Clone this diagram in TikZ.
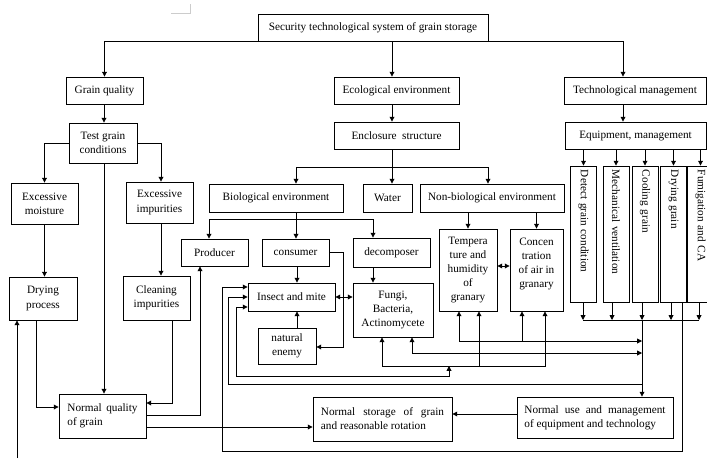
\documentclass[tikz,border=0pt]{standalone}
\usepackage{fontspec}
\setmainfont{Liberation Serif}
\usetikzlibrary{arrows.meta,positioning,calc}

\begin{document}
\begin{tikzpicture}[
  x=0.025cm, y=-0.025cm,
  font=\fontsize{8}{10}\selectfont,
  box/.style={draw, line width=0.6pt, inner sep=1pt, align=center,
    minimum height=0.675cm},
  vbox/.style={box, rotate=-90, minimum height=0.65cm, text width=3.2cm,
    inner xsep=0.1cm, align=left},
  ln/.style={line width=0.6pt},
  arr/.style={ln, -{Triangle[length=3.4pt,width=3.4pt]}},
  barr/.style={ln, {Triangle[length=3.4pt,width=3.4pt]}-{Triangle[length=3.4pt,width=3.4pt]}},
]
  \useasboundingbox (0,0) rectangle (707,459);
  \draw[gray!40, thin] (171,13) -- (190,13) -- (190,4);

  \node[box, minimum width=5.75cm] (sys) at (373,27.5) {Security technological system of grain storage};
  \node[box, minimum width=1.925cm] (gq) at (104.5,90.5) {Grain quality};
  \node[box, minimum width=3.125cm] (eco) at (396.5,90.5) {Ecological environment};
  \node[box, minimum width=3.55cm] (tm) at (635,90.5) {Technological management};

  \node[box, minimum width=1.7cm, minimum height=1cm] (test) at (103,143) {Test grain\\conditions};
  \node[box, minimum width=3.125cm] (encl) at (396.5,135.5) {Enclosure\ \ structure};
  \node[box, minimum width=3.525cm] (equip) at (635.5,135.5) {Equipment, management};

  \node[box, minimum width=1.675cm, minimum height=1.025cm] (exm) at (44.5,203.5) {Excessive\\moisture};
  \node[box, minimum width=1.675cm, minimum height=1.025cm] (exi) at (159.5,202.5) {Excessive\\impurities};
  \node[box, minimum width=1.7cm, minimum height=1.075cm] (drying) at (43,298.5) {Drying\\process};
  \node[box, minimum width=1.675cm, minimum height=1.1cm] (clean) at (156.5,298) {Cleaning\\impurities};

  \node[box, minimum width=3.35cm, minimum height=0.7cm] (bio) at (276,198) {Biological environment};
  \node[box, minimum width=1.225cm, minimum height=0.7cm] (water) at (387.5,198) {Water};
  \node[box, minimum width=3.6cm, minimum height=0.7cm] (nonbio) at (492,198) {Non-biological environment};

  \node[box, minimum width=1.675cm] (prod) at (214.5,252.5) {Producer};
  \node[box, minimum width=1.675cm] (cons) at (295.5,252.5) {consumer};
  \node[box, minimum width=1.925cm, minimum height=0.725cm] (decomp) at (391.5,252.5) {decomposer};
  \node[box, minimum width=2.175cm, minimum height=0.7cm] (insect) at (291.5,297) {Insect and mite};
  \node[box, minimum width=2cm, minimum height=1.35cm] (fungi) at (393,310) {Fungi,\\Bacteria,\\Actinomycete};
  \node[box, minimum width=1.45cm, minimum height=0.9cm] (enemy) at (287,346) {natural\\enemy};
  \node[box, minimum width=1.45cm, minimum height=2.05cm] (temp) at (468,270) {Tempera\\ture and\\humidity\\of\\granary};
  \node[box, minimum width=1.325cm, minimum height=2.05cm] (conc) at (536.5,270) {Concen\\tration\\of air in\\granary\\\mbox{}};

  \node[vbox] (det) at (583.5,234) {Detect grain condition};
  \node[vbox] (mech) at (616,234) {Mechanical ventilation};
  \node[vbox] (cool) at (645,234) {Cooling grain};
  \node[vbox] (dry) at (673.5,234) {Drying grain};
  \node[vbox] (fum) at (700.5,234) {Fumigation and CA};

  \node[box, minimum width=2.175cm, minimum height=1.1cm, align=left] (nq) at (102.5,416)
    {\makebox[1.75cm][s]{Normal quality}\\of grain};
  \node[box, minimum width=3.475cm, minimum height=1.1cm, align=left] (nstore) at (382.5,419)
    {\makebox[3.075cm][s]{Normal storage of grain}\\and reasonable rotation};
  \node[box, minimum width=3.9cm, minimum height=1.025cm, align=left] (nuse) at (595,417.5)
    {\makebox[3.525cm][s]{Normal use and management}\\of equipment and technology};

  % top level
  \draw[arr] (sys.south west) -| (gq.north);
  \draw[arr] (sys.south -| 392,0) -- (eco.north -| 392,0);
  \draw[arr] (sys.south east) -| (tm.north -| 623,0);
  \draw[arr] (gq.south -| 104,0) -- (test.north -| 104,0);
  \draw[arr] (eco.south -| 392,0) -- (encl.north -| 392,0);
  \draw[arr] (tm.south -| 623,0) -- (equip.north -| 623,0);

  % grain quality
  \draw[arr] (test.west) -| (exm.north);
  \draw[arr] (test.east) -| (exi.north -| 161,0);
  \draw[arr] (exm.south) -- (exm.south |- drying.north);
  \draw[arr] (exi.south -| 161,0) -- (clean.north -| 161,0);
  \draw[arr] (test.south -| 104,0) -- (nq.north -| 104,0);
  \draw[arr] (drying.south -| 36,0) |- (nq.west |- 0,407);
  \draw[arr] (clean.south -| 172,0) |- (nq.east |- 0,403);
  \draw[arr] (nq.east |- 0,415) -| (prod.south -| 200,0);
  \draw[arr] (nq.east |- 0,427) -- (nstore.west |- 0,427);
  \coordinate (fb) at (17,458);
  \draw[arr] (fb) -- (fb |- drying.south);

  % ecological environment
  \draw[ln] (encl.south -| 392,0) -- (392,167) coordinate (ej);
  \draw[arr] (ej) -| (bio.north -| 296,0);
  \draw[arr] (ej) -- (ej |- water.north);
  \draw[arr] (ej) -| (nonbio.north -| 488,0);
  \draw[ln] (bio.south -| 296,0) -- (296,219) coordinate (bj);
  \draw[arr] (bj) -| (prod.north -| 209,0);
  \draw[arr] (bj) -- (bj |- cons.north);
  \draw[arr] (bj) -| (decomp.north -| 373,0);
  \draw[arr] (nonbio.south -| temp.north) -- (temp.north);
  \draw[arr] (nonbio.south -| conc.north) -- (conc.north);
  \draw[arr] (cons.south -| 297,0) -- (insect.north -| 297,0);
  \draw[arr] (decomp.south -| 373,0) -- (fungi.north -| 373,0);
  \draw[barr] (insect.east) -- (insect.east -| fungi.west);
  \draw[arr] (enemy.north -| 297,0) -- (insect.south -| 297,0);
  \draw[arr] (cons.east) -| (343,347) -- (enemy.east |- 0,347);
  \draw[barr] (temp.east |- 0,266) -- (conc.west |- 0,266);

  % equipment
  \foreach \b in {det,mech,cool,dry,fum}
    \draw[arr] (equip.south -| \b.west) -- (\b.west);
  \foreach \b/\x in {det/583,mech/612,cool/642,dry/671,fum/699}
    \draw[arr] (\b.east -| \x,0) -- (\x,320);
  \draw[ln] (583,320) -- (699,320);
  \draw[arr] (642,320) -- (nuse.north -| 642,0);
  \draw[arr] (nuse.west |- 0,414) -- (nstore.east |- 0,414);

  % feedback
  \draw[arr] (dry.east -| 682,0) |- (222,451) |- (insect.west |- 0,287);
  \draw[arr] (642,384) -| (228,297) -- (insect.west);
  \draw[barr] (insect.west |- 0,307) -| (236,376) -| (449,366);
  \draw[barr] (fungi.south -| 382,0) |- (545,366) -- (conc.south -| 545,0);
  \draw[arr] (479,366) -- (temp.south -| 479,0);
  \draw[barr] (fungi.south -| 412,0) |- (642,353);
  \draw[barr] (temp.south -| 459,0) |- (642,341);
  \draw[arr] (522,341) -- (conc.south -| 522,0);
\end{tikzpicture}
\end{document}
